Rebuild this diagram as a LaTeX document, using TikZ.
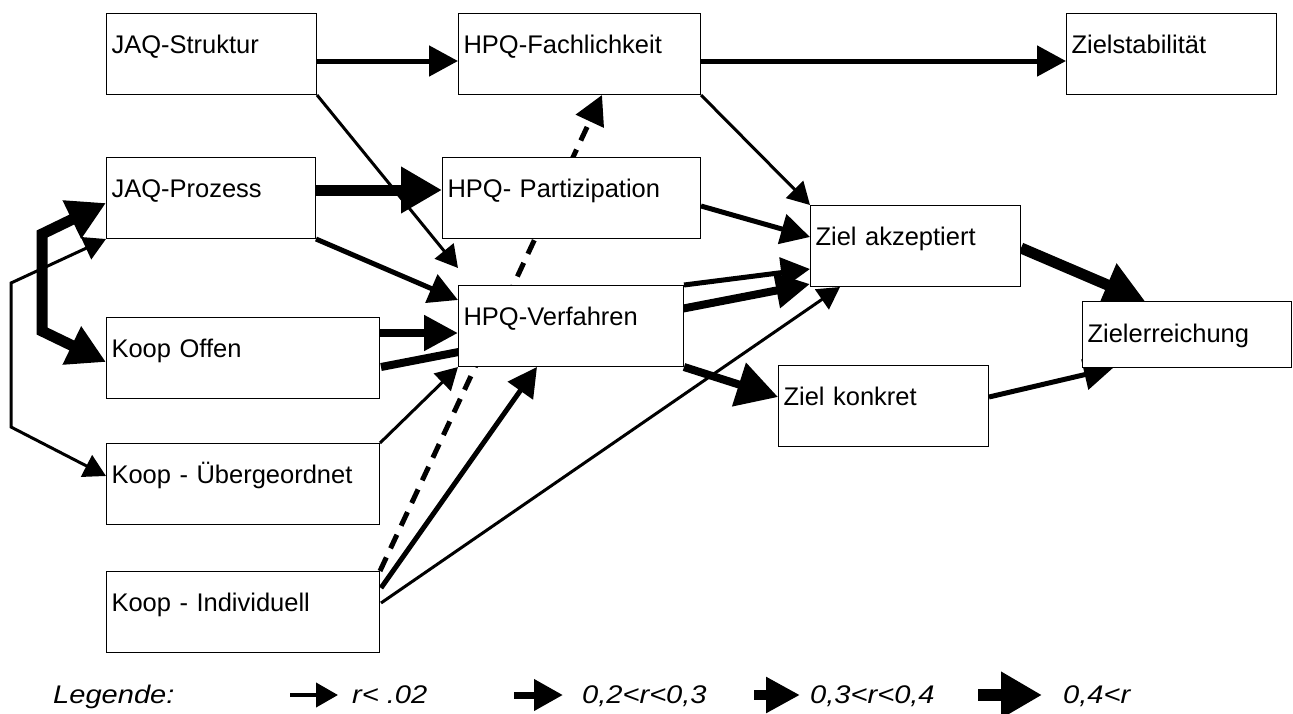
\documentclass[tikz,border=0pt]{standalone}
\usepackage{fontspec}
\setmainfont{Liberation Sans}
\newfontfamily\legfont{Liberation Sans}[FakeStretch=1.14]
\usetikzlibrary{arrows.meta,calc,backgrounds}
\begin{document}
\begin{tikzpicture}[x=1pt,y=-1pt,
  box/.style={draw, line width=1pt, fill=white, anchor=north west, inner xsep=5pt, inner ysep=0pt,
    text height=40pt, text depth=41pt, align=left, font=\fontsize{25.5}{30}\selectfont},
  leg/.style={anchor=base west, inner sep=0pt, font=\legfont\itshape\fontsize{25.5}{30}\selectfont},
  c1/.style={line width=3pt, -{Triangle[length=22pt,width=24pt]}},
  c2/.style={line width=5pt, -{Triangle[length=29pt,width=30pt]}},
  c3/.style={line width=8pt, -{Triangle[length=34pt,width=34pt]}},
  c4/.style={line width=11pt, -{Triangle[length=41pt,width=44pt]}},
  c1b/.style={line width=3pt, {Triangle[length=22pt,width=24pt]}-{Triangle[length=22pt,width=24pt]}},
  c4b/.style={line width=11pt, {Triangle[length=38pt,width=40pt]}-{Triangle[length=38pt,width=40pt]}},
  dashedarrow/.style={c2, dash pattern=on 15pt off 10pt}
]
\useasboundingbox (0,0) rectangle (1293,713);

% boxes
\node[box, text width=200pt] (jaqs) at (106,13) {JAQ-Struktur};
\node[box, text width=232pt] (fach) at (458,13) {HPQ-Fachlichkeit};
\node[box, text width=200pt] (stab) at (1066,13) {Zielstabilität};
\node[box, text width=199pt] (jaqp) at (106,157) {JAQ-Prozess};
\node[box, text width=248pt] (part) at (442,157) {HPQ- Partizipation};
\node[box, text width=215pt] (verf) at (458,285) {HPQ-Verfahren};
\node[box, text width=200pt] (akz) at (810,205) {Ziel akzeptiert};
\node[box, text width=263pt] (koff) at (106,317) {Koop Offen};
\node[box, text width=200pt] (konk) at (778,365) {Ziel konkret};
\node[box, text width=199pt, text height=41pt, text depth=25pt] (erre) at (1082,301) {Zielerreichung};
\node[box, text width=263pt] (kueb) at (106,443) {Koop - Übergeordnet};
\node[box, text width=263pt] (kind) at (106,571) {Koop - Individuell};

% bracket corner points
\coordinate (tb1) at (42,234);
\coordinate (tb2) at (42,331);
\coordinate (nb1) at (11,283);
\coordinate (nb2) at (11,427);

\begin{scope}[on background layer]
\fill[white] (0,0) rectangle (1293,713);
% connectors
\draw[c2] ($(jaqs.north east)+(0,48)$) -- ($(fach.north west)+(0,48)$);
\draw[c1] (jaqs.south east) -- ($(verf.north west)+(0,-17)$);
\draw[c4] ($(jaqp.north east)+(0,33)$) -- ($(part.north west)+(0,33)$);
\draw[c2] (jaqp.south east) -- ($(verf.north west)+(0,15)$);
\draw[c3] ($(koff.north east)+(0,16)$) -- ($(verf.north west)+(0,48)$);
\draw[c3] ($(koff.north east)+(1,50)$) -- ($(akz.south west)+(0,-3)$);
\draw[c2] (verf.north east) -- ($(akz.south west)+(0,-18)$);
\draw[c2] ($(part.north east)+(0,49)$) -- ($(akz.north west)+(0,32)$);
\draw[c1] (fach.south east) -- (akz.north west);
\draw[c2] ($(fach.north east)+(0,48)$) -- ($(stab.north west)+(0,48)$);
\draw[dashedarrow] (kind.north east) -- ($(fach.south west)+(144,0)$);
\draw[c2] ($(kind.north east)+(1,17)$) -- ($(verf.south west)+(79,0)$);
\draw[c1] ($(kind.north east)+(1,32)$) -- ($(akz.south west)+(30,0)$);
\draw[c1] (kueb.north east) -- (verf.south west);
\draw[c4, line width=8pt] (verf.south east) -- ($(konk.north west)+(0,32)$);
\draw[c2] ($(konk.north east)+(0,32)$) -- ($(erre.south west)+(31,0)$);
\draw[c4] ($(akz.north east)+(0,43)$) -- ($(erre.north west)+(63,0)$);
\draw[c4b] ($(jaqp.north west)+(0,46)$) -- (tb1) -- (tb2) -- ($(koff.north west)+(0,45)$);
\draw[c1b] (jaqp.south west) -- (nb1) -- (nb2) -- ($(kueb.north west)+(0,33)$);
\end{scope}

% legend
\node[leg] (lg0) at (53,703) {Legende:};
\coordinate (la1) at (290,695); \coordinate (lb1) at (338,695);
\coordinate (la2) at (514,695); \coordinate (lb2) at (563,695);
\coordinate (la3) at (754,695); \coordinate (lb3) at (800,695);
\coordinate (la4) at (978,695); \coordinate (lb4) at (1042,695);
\draw[c1, line width=4pt] (la1) -- (lb1);
\draw[c2, line width=7pt] (la2) -- (lb2);
\draw[c3, line width=10pt] (la3) -- (lb3);
\draw[c4, line width=12pt] (la4) -- (lb4);
\node[leg] (lg1) at (352,703) {r< .02};
\node[leg] (lg2) at (582,703) {0,2<r<0,3};
\node[leg] (lg3) at (810,703) {0,3<r<0,4};
\node[leg] (lg4) at (1063,703) {0,4<r};
\end{tikzpicture}
\end{document}
